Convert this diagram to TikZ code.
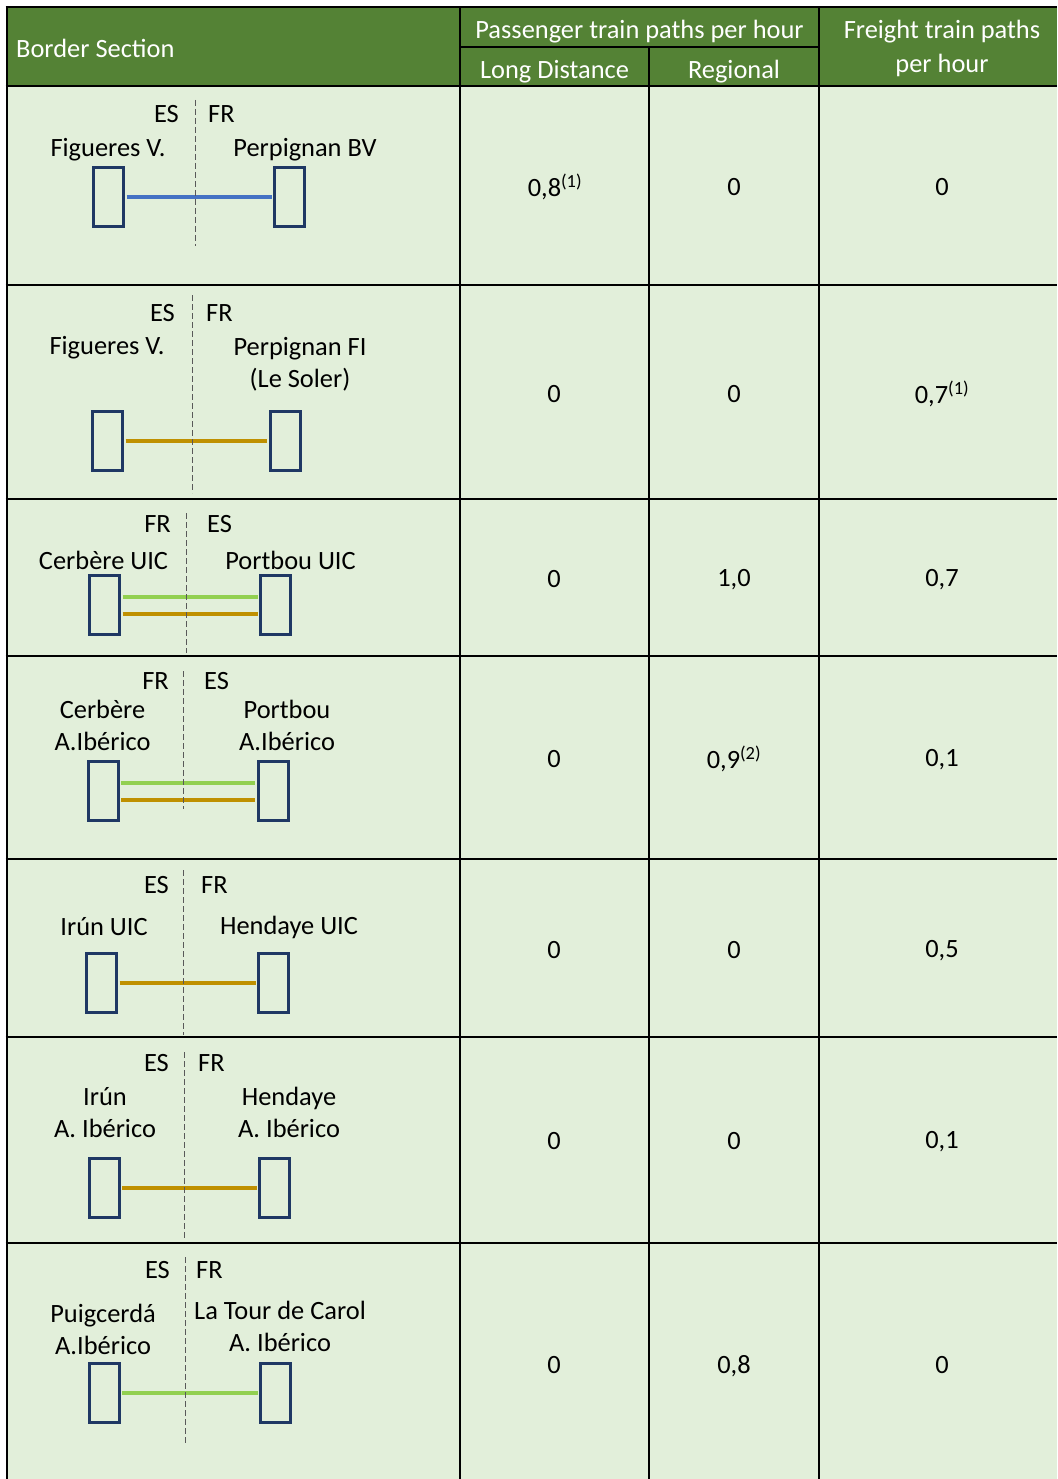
\documentclass[tikz,border=0pt]{standalone}
\usepackage{fontspec}
\setmainfont{Carlito}

\definecolor{hdrgreen}{HTML}{548235}
\definecolor{cellgreen}{HTML}{E2EFDA}
\definecolor{navy}{HTML}{1F3864}
\definecolor{ldblue}{HTML}{4472C4}
\definecolor{freightgold}{HTML}{BF9000}
\definecolor{regiogreen}{HTML}{92D050}

\tikzset{
    station/.style={draw=navy, line width=3pt, minimum width=30pt, minimum height=59pt, inner sep=0pt},
    frontier/.style={black!65, line width=0.9pt, dash pattern=on 6pt off 3pt},
    track/.style={line width=4pt, shorten <=1.5pt, shorten >=1.5pt},
    lbl/.style={inner sep=0pt, align=center},
    hdr/.style={lbl, text=white},
    gridline/.style={black, line width=2.6pt}
}

\begin{document}
\begin{tikzpicture}[x=1pt, y=-1pt, font=\fontsize{26.4}{32}\selectfont]
    \useasboundingbox (0,0) rectangle (1057,1479);

    % cell backgrounds
    \fill[hdrgreen] (7,7) rectangle (1057,86);
    \fill[cellgreen] (7,86) rectangle (1057,1479);

    % table grid
    \foreach \y in {7,86,285,499,656,859,1037,1243}
        \draw[gridline] (5.7,\y) -- (1057,\y);
    \draw[gridline] (460,47) -- (819,47);
    \foreach \x in {7,460,819}
        \draw[gridline] (\x,7) -- (\x,1479);
    \draw[gridline] (649,47) -- (649,1479);

    % header
    \node[hdr, anchor=west] (hsec) at (16,48.5) {Border Section};
    \node[hdr] (hpass) at (639.5,31.5) {Passenger train paths per hour};
    \node[hdr] (hld) at (554.5,71.5) {Long Distance};
    \node[hdr] (hreg) at (734,71.5) {Regional};
    \node[hdr, font=\fontsize{26.4}{34}\selectfont] (hfrt) at (942,48.5) {Freight train paths\\per hour};

    % Figueres V. - Perpignan BV
    \node[lbl, anchor=east] (es1) at (179,114) {ES};
    \node[lbl, anchor=west] (fr1) at (208,114) {FR};
    \node[lbl] (n1a) at (108,150) {Figueres V.};
    \node[lbl] (n1b) at (305,150) {Perpignan BV};
    \node[station] (s1a) at (108.5,197) {};
    \node[station] (s1b) at (289.5,197) {};
    \draw[track, ldblue] (s1a) -- (s1b);
    \draw[frontier] (195.5,100) -- (195.5,246);
    \node[lbl] (v1a) at (555,187) {0,8\textsuperscript{(1)}};
    \node[lbl] (v1b) at (734,187) {0};
    \node[lbl] (v1c) at (942,187) {0};

    % Figueres V. - Perpignan FI
    \node[lbl, anchor=east] (es2) at (175,313) {ES};
    \node[lbl, anchor=west] (fr2) at (206,313) {FR};
    \node[lbl] (n2a) at (107,348) {Figueres V.};
    \node[lbl] (n2b) at (300,364) {Perpignan FI\\(Le Soler)};
    \node[station] (s2a) at (107.5,441) {};
    \node[station] (s2b) at (285,441) {};
    \draw[track, freightgold] (s2a) -- (s2b);
    \draw[frontier] (192,295) -- (192,493);
    \node[lbl] (v2a) at (554,394) {0};
    \node[lbl] (v2b) at (734,394) {0};
    \node[lbl] (v2c) at (942,394) {0,7\textsuperscript{(1)}};

    % Cerbere UIC - Portbou UIC
    \node[lbl, anchor=east] (fr3) at (171,524) {FR};
    \node[lbl, anchor=west] (es3) at (207,524) {ES};
    \node[lbl] (n3a) at (103.5,560) {Cerbère UIC};
    \node[lbl] (n3b) at (290.5,560) {Portbou UIC};
    \node[station] (s3a) at (104.5,605) {};
    \node[station] (s3b) at (275.5,605) {};
    \draw[track, regiogreen] ([yshift=8pt]s3a.east) -- ([yshift=8pt]s3b.west);
    \draw[track, freightgold] ([yshift=-9pt]s3a.east) -- ([yshift=-9pt]s3b.west);
    \draw[frontier] (186,513) -- (186,653);
    \node[lbl] (v3a) at (554,579) {0};
    \node[lbl] (v3b) at (734,580) {1,0};
    \node[lbl] (v3c) at (942,580) {0,7};

    % Cerbere - Portbou A.Iberico
    \node[lbl, anchor=east] (fr4) at (169,681) {FR};
    \node[lbl, anchor=west] (es4) at (204,681) {ES};
    \node[lbl] (n4a) at (102.5,725) {Cerbère\\A.Ibérico};
    \node[lbl] (n4b) at (287,725) {Portbou\\A.Ibérico};
    \node[station] (s4a) at (103,791) {};
    \node[station] (s4b) at (273,791) {};
    \draw[track, regiogreen] ([yshift=8pt]s4a.east) -- ([yshift=8pt]s4b.west);
    \draw[track, freightgold] ([yshift=-9pt]s4a.east) -- ([yshift=-9pt]s4b.west);
    \draw[frontier] (183,671) -- (183,809);
    \node[lbl] (v4a) at (554,759) {0};
    \node[lbl] (v4b) at (734,759) {0,9\textsuperscript{(2)}};
    \node[lbl] (v4c) at (942,760) {0,1};

    % Irun UIC - Hendaye UIC
    \node[lbl, anchor=east] (es5) at (169,885) {ES};
    \node[lbl, anchor=west] (fr5) at (201,885) {FR};
    \node[lbl] (n5a) at (104,927) {Irún UIC};
    \node[lbl] (n5b) at (289,927) {Hendaye UIC};
    \node[station] (s5a) at (101.5,983) {};
    \node[station] (s5b) at (273.5,983) {};
    \draw[track, freightgold] (s5a) -- (s5b);
    \draw[frontier] (183,870) -- (183,1035);
    \node[lbl] (v5a) at (554,950) {0};
    \node[lbl] (v5b) at (734,950) {0};
    \node[lbl] (v5c) at (942,951) {0,5};

    % Irun - Hendaye A. Iberico
    \node[lbl, anchor=east] (es6) at (169,1063) {ES};
    \node[lbl, anchor=west] (fr6) at (198,1063) {FR};
    \node[lbl] (n6a) at (105,1112.5) {Irún\\A. Ibérico};
    \node[lbl] (n6b) at (289,1112.5) {Hendaye\\A. Ibérico};
    \node[station] (s6a) at (104,1188) {};
    \node[station] (s6b) at (274.5,1188) {};
    \draw[track, freightgold] (s6a) -- (s6b);
    \draw[frontier] (184.5,1052) -- (184.5,1238);
    \node[lbl] (v6a) at (554,1141) {0};
    \node[lbl] (v6b) at (734,1141) {0};
    \node[lbl] (v6c) at (942,1142) {0,1};

    % Puigcerda - La Tour de Carol
    \node[lbl, anchor=east] (es7) at (170,1270) {ES};
    \node[lbl, anchor=west] (fr7) at (196,1270) {FR};
    \node[lbl] (n7a) at (103,1329) {Puigcerdá\\A.Ibérico};
    \node[lbl] (n7b) at (280,1326.5) {La Tour de Carol\\A. Ibérico};
    \node[station] (s7a) at (104,1393) {};
    \node[station] (s7b) at (275.5,1393) {};
    \draw[track, regiogreen] (s7a) -- (s7b);
    \draw[frontier] (185,1257) -- (185,1443);
    \node[lbl] (v7a) at (554,1365) {0};
    \node[lbl] (v7b) at (734,1366) {0,8};
    \node[lbl] (v7c) at (942,1365) {0};
\end{tikzpicture}
\end{document}
